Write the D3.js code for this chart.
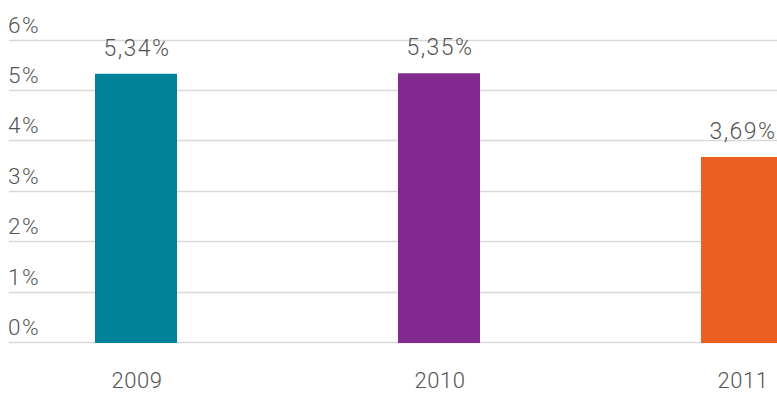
<!DOCTYPE html>
<html>
<head>
<meta charset="utf-8">
<script src="https://cdn.jsdelivr.net/npm/d3@7"></script>
<style>
  html, body { margin: 0; padding: 0; background: #fff; }
  svg { display: block; }
  text { font-family: Roboto, "Noto Sans", sans-serif; font-weight: 300; fill: #555; letter-spacing: 1.5px; }
</style>
</head>
<body>
<svg id="chart" width="777" height="393"></svg>
<script>
const years = ["2009", "2010", "2011"];
const rates = [5.34, 5.35, 3.69];
const barColors = ["#008299", "#82298f", "#eb5f23"];
const yTicks = [0, 1, 2, 3, 4, 5, 6];

const W = 777, H = 393;
const svg = d3.select("#chart");

const y = d3.scaleLinear().domain([0, 6]).range([343, 40.5]);
const x = d3.scalePoint().domain(years).range([136, 742]);
const barW = 82;
const fmt = v => v.toFixed(2).replace(".", ",") + "%";

// horizontal gridlines
svg.append("g")
  .selectAll("line")
  .data(yTicks)
  .join("line")
  .attr("x1", 9).attr("x2", W)
  .attr("y1", d => Math.round(y(d)) - 0.5)
  .attr("y2", d => Math.round(y(d)) - 0.5)
  .attr("stroke", "#d9d9d9")
  .attr("stroke-width", 1.3);

// y tick labels, sitting just above each gridline
svg.append("g")
  .selectAll("text")
  .data(yTicks)
  .join("text")
  .attr("x", 8)
  .attr("y", d => y(d) - 8)
  .attr("font-size", 22.5)
  .text(d => d + "%");

// bars
svg.append("g")
  .selectAll("rect")
  .data(years)
  .join("rect")
  .attr("x", d => x(d) - barW / 2)
  .attr("width", barW)
  .attr("y", (d, i) => y(rates[i]))
  .attr("height", (d, i) => y(0) - y(rates[i]))
  .attr("fill", (d, i) => barColors[i]);

// value labels
svg.append("g")
  .selectAll("text")
  .data(years)
  .join("text")
  .attr("x", d => x(d) + 1)
  .attr("y", (d, i) => y(rates[i]) - 18)
  .attr("text-anchor", "middle")
  .attr("font-size", 23)
  .text((d, i) => fmt(rates[i]));

// category labels
svg.append("g")
  .selectAll("text")
  .data(years)
  .join("text")
  .attr("x", d => x(d) + 1)
  .attr("y", 388)
  .attr("text-anchor", "middle")
  .attr("font-size", 22)
  .style("letter-spacing", "0.5px")
  .text(d => d);
</script>
</body>
</html>
